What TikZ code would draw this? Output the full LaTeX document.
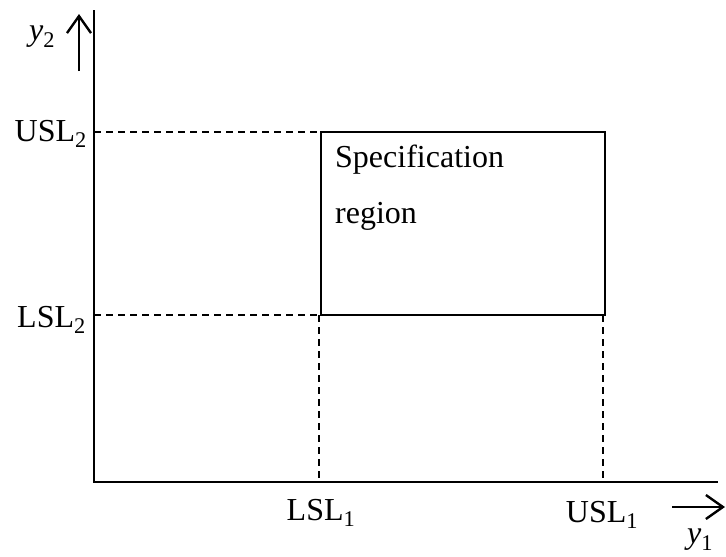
\documentclass[tikz,border=0pt]{standalone}
\usepackage{fontspec}
\setmainfont{Liberation Serif}
\usetikzlibrary{arrows.meta}
\tikzset{
  axis/.style={line width=2.4pt},
  guide/.style={line width=1.6pt, dash pattern=on 7pt off 5pt},
  region/.style={draw, line width=2.4pt},
  lbl/.style={font=\fontsize{32}{38}\selectfont, inner sep=0pt},
  dirarrow/.style={line width=2.4pt, -{Straight Barb[length=17pt,width=24pt,line width=2.4pt]}}
}
\begin{document}
\begin{tikzpicture}[x=1pt,y=-1pt]
\useasboundingbox (0,0) rectangle (726,557);
% axes
\coordinate (top) at (94,10);
\coordinate (o) at (94,482);
\coordinate (right) at (718,482);
\draw[axis] (top) -- (o) -- (right);
% specification region
\coordinate (r1) at (321,132);
\coordinate (r2) at (605,315);
\draw[region] (r1) rectangle (r2);
% guides
\coordinate (u2) at (94,132);
\coordinate (l2) at (94,315);
\coordinate (l2e) at (321,315);
\coordinate (l1t) at (319,315);
\coordinate (l1b) at (319,482);
\coordinate (u1t) at (603,315);
\coordinate (u1b) at (603,482);
\draw[guide] (u2) -- (r1);
\draw[guide] (l2) -- (l2e);
\draw[guide] (l1t) -- (l1b);
\draw[guide] (u1t) -- (u1b);
% direction arrows
\coordinate (a2s) at (79,71);
\coordinate (a2e) at (79,14);
\draw[dirarrow] (a2s) -- (a2e);
\coordinate (a1s) at (672,507);
\coordinate (a1e) at (725,507);
\draw[dirarrow] (a1s) -- (a1e);
% labels
\node[lbl, anchor=east] (usl2) at (87,134) {USL\textsubscript{2}};
\node[lbl, anchor=east] (lsl2) at (86,320) {LSL\textsubscript{2}};
\node[lbl] (lsl1) at (321,513) {LSL\textsubscript{1}};
\node[lbl] (usl1) at (602,515) {USL\textsubscript{1}};
\node[lbl] (y1) at (700,540) {\textit{y}\textsubscript{1}};
\node[lbl] (y2) at (42,37) {\textit{y}\textsubscript{2}};
\node[lbl, anchor=north west, align=left, font=\fontsize{32}{56}\selectfont] (spec) at (335,145) {Specification\\region};
\end{tikzpicture}
\end{document}
